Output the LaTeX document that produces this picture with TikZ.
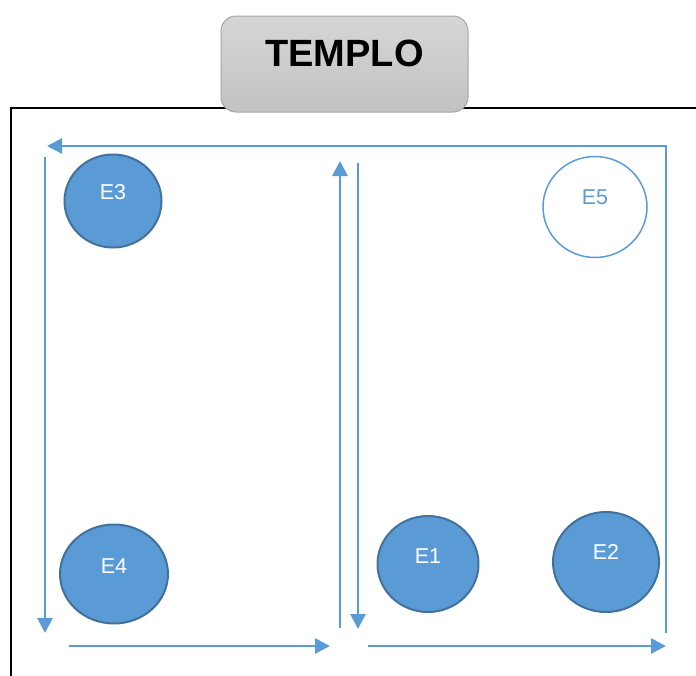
\documentclass[tikz,border=0pt]{standalone}
\usepackage{fontspec}
\setmainfont{Liberation Sans}
\usetikzlibrary{arrows.meta, shapes.geometric}
\definecolor{flowblue}{RGB}{91,155,213}
\definecolor{stationedge}{RGB}{65,113,156}
\tikzset{
    flow/.style={draw=flowblue, line width=2.8pt, -{Triangle[length=15pt, width=15pt]}},
    station/.style={ellipse, draw=stationedge, fill=flowblue, line width=2pt, inner sep=0pt},
    stationtext/.style={text=white, font=\fontsize{21.5}{23}\selectfont},
}
\begin{document}
\begin{tikzpicture}[x=1pt, y=-1pt]
    \useasboundingbox (0, 0) rectangle (696, 675);
    \clip (0, 0) rectangle (696, 675);
    % hall
    \draw [line width=2.8pt] (11, 108) rectangle (720, 700);
    \node [rectangle, rounded corners=15pt, draw={rgb,255:red,166;green,166;blue,166}, line width=1pt,
           top color={rgb,255:red,214;green,214;blue,214}, bottom color={rgb,255:red,194;green,194;blue,194},
           minimum width=247pt, minimum height=96pt,
           label={[yshift=11pt, font=\bfseries\fontsize{38}{40}\selectfont]center:TEMPLO}] (templo) at (344.5, 64) {};
    % flow
    \draw [flow] (666, 633) -- (666, 146) -- (47, 146);
    \draw [flow] (45, 157) -- (45, 633);
    \draw [flow] (69, 646) -- (330, 646);
    \draw [flow] (340, 628) -- (340, 161);
    \draw [flow] (358, 163) -- (358, 629);
    \draw [flow] (368, 646) -- (666, 646);
    % stations
    \node [station, minimum width=97pt, minimum height=93pt, label={[yshift=9pt, stationtext]center:E3}] (e3) at (113, 201) {};
    \node [station, minimum width=108pt, minimum height=99pt, label={[yshift=8pt, stationtext]center:E4}] (e4) at (114, 574) {};
    \node [station, minimum width=101pt, minimum height=96pt, label={[yshift=8pt, stationtext]center:E1}] (e1) at (428, 564) {};
    \node [station, minimum width=106pt, minimum height=100pt, label={[yshift=10pt, stationtext]center:E2}] (e2) at (606, 562) {};
    \node [station, draw=flowblue, fill=white, line width=1.5pt, minimum width=104pt, minimum height=101pt,
           label={[yshift=10pt, stationtext, text=flowblue]center:E5}] (e5) at (595, 207) {};
\end{tikzpicture}
\end{document}
